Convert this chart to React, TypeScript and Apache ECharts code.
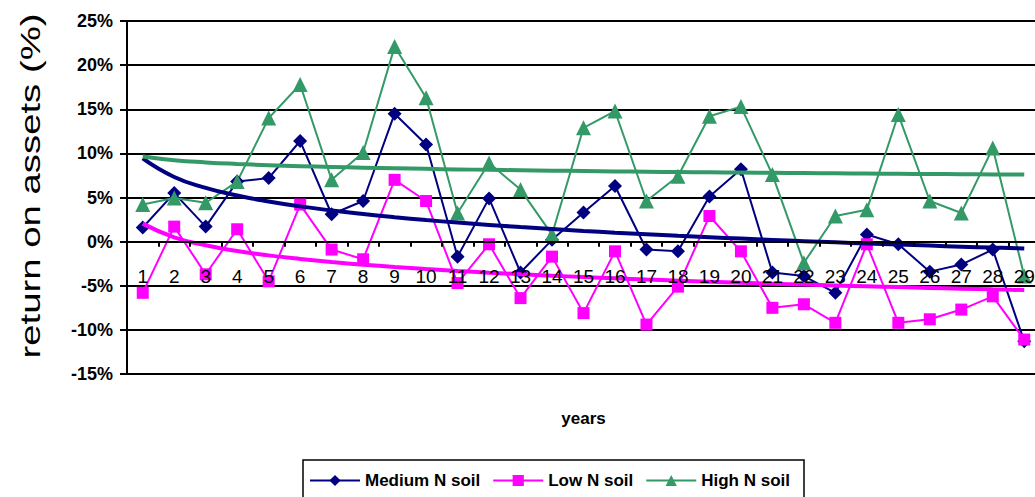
import React, { useEffect, useRef } from "react";
import * as echarts from "echarts";

const years = ["1","2","3","4","5","6","7","8","9","10","11","12","13","14","15","16","17","18","19","20","21","22","23","24","25","26","27","28","29"];
const mediumN = [1.6, 5.5, 1.7, 6.8, 7.2, 11.4, 3.1, 4.6, 14.5, 11.0, -1.7, 4.9, -3.5, 0.2, 3.3, 6.3, -0.9, -1.1, 5.1, 8.2, -3.5, -3.9, -5.8, 0.8, -0.3, -3.4, -2.6, -0.9, -11.3];
const lowN = [-5.8, 1.7, -3.7, 1.4, -4.5, 4.2, -0.9, -2.0, 7.0, 4.6, -4.7, -0.3, -6.4, -1.7, -8.1, -1.1, -9.4, -5.1, 2.9, -1.1, -7.5, -7.1, -9.2, -0.3, -9.2, -8.8, -7.7, -6.2, -11.1];
const highN = [4.2, 4.95, 4.4, 6.8, 14.0, 17.8, 7.0, 10.1, 22.1, 16.3, 3.25, 8.9, 5.9, 0.8, 12.9, 14.8, 4.6, 7.4, 14.2, 15.3, 7.6, -2.4, 2.9, 3.6, 14.4, 4.6, 3.25, 10.6, -3.9];
const yTitle = "return on assets (%)";
const Y_MIN = -15;
const Y_MAX = 25;
const Y_STEP = 5;

// logarithmic least-squares trendline (as in the spreadsheet's "Log" trendline)
function logTrend(values: number[]): number[] {
  const n = values.length;
  const xs = values.map((_, i) => Math.log(i + 1));
  const mx = xs.reduce((a, b) => a + b, 0) / n;
  const my = values.reduce((a, b) => a + b, 0) / n;
  let sxy = 0, sxx = 0;
  for (let i = 0; i < n; i++) {
    sxy += (xs[i] - mx) * (values[i] - my);
    sxx += (xs[i] - mx) * (xs[i] - mx);
  }
  const b = sxy / sxx;
  const a = my - b * mx;
  return xs.map((x) => +(a + b * x).toFixed(3));
}

const FONT = "'Liberation Sans', Arial, sans-serif";
const NAVY = "#000080";
const MAGENTA = "#FF00FF";
const GREEN = "#339966";

const GRID_TOP = 21;
const GRID_BOTTOM = 123;
const H = 497;

export default function App() {
  const ref = useRef<HTMLDivElement>(null);
  useEffect(() => {
    if (!ref.current) return;
    const chart = echarts.init(ref.current, undefined, { renderer: "svg" });
    // lift the category axis from the bottom edge of the grid up to the 0% line
    const plotH = H - GRID_TOP - GRID_BOTTOM;
    const zeroOffset = -plotH * (0 - Y_MIN) / (Y_MAX - Y_MIN);
    chart.setOption({
      animation: false,
      backgroundColor: "#fff",
      grid: { left: 127, top: GRID_TOP, bottom: GRID_BOTTOM, right: -5, containLabel: false, outerBoundsMode: "none" },
      graphic: [
        {
          type: "text",
          x: 31,
          y: 186,
          rotation: Math.PI / 2,
          scaleX: 1.42,
          scaleY: 1,
          style: {
            text: yTitle,
            fontFamily: FONT,
            fontSize: 27,
            fill: "#000",
            textAlign: "center",
            textVerticalAlign: "middle",
          },
        },
      ],
      legend: {
        data: ["Medium N soil", "Low N soil", "High N soil"],
        left: 303,
        top: 460,
        itemWidth: 50,
        itemHeight: 14,
        itemGap: 12,
        padding: [12, 14, 14, 6],
        borderColor: "#000",
        borderWidth: 1.5,
        textStyle: { fontFamily: FONT, fontSize: 17, fontWeight: "bold", color: "#000" },
      },
      xAxis: {
        type: "category",
        data: years,
        boundaryGap: true,
        position: "bottom",
        offset: zeroOffset,
        name: "years",
        nameLocation: "middle",
        nameGap: 168,
        nameTextStyle: { fontFamily: FONT, fontSize: 17, fontWeight: "bold", color: "#000" },
        z: 10,
        axisLine: { onZero: false, lineStyle: { color: "#000", width: 2 } },
        axisTick: { show: true, inside: false, length: 5, alignWithLabel: false, lineStyle: { color: "#000", width: 2 } },
        axisLabel: { margin: 25, fontFamily: FONT, fontSize: 19, color: "#000", interval: 0 },
        splitLine: { show: false },
      },
      yAxis: {
        type: "value",
        min: Y_MIN,
        max: Y_MAX,
        interval: Y_STEP,
        axisLine: { show: true, lineStyle: { color: "#000", width: 2 } },
        axisTick: { show: true, length: 7, lineStyle: { color: "#000", width: 2 } },
        axisLabel: { margin: 14, fontFamily: FONT, fontSize: 18, fontWeight: "bold", color: "#000", formatter: (v: number) => `${v}%` },
        splitLine: { show: true, lineStyle: { color: "#000", width: 2 } },
      },
      series: [
        {
          name: "Medium N soil",
          type: "line",
          data: mediumN,
          symbol: "diamond",
          symbolSize: 14,
          itemStyle: { color: NAVY },
          lineStyle: { color: NAVY, width: 2 },
          z: 3,
        },
        {
          name: "Low N soil",
          type: "line",
          data: lowN,
          symbol: "rect",
          symbolSize: 12,
          itemStyle: { color: MAGENTA },
          lineStyle: { color: MAGENTA, width: 2 },
          z: 3,
        },
        {
          name: "High N soil",
          type: "line",
          data: highN,
          symbol: "triangle",
          symbolSize: 15,
          itemStyle: { color: GREEN },
          lineStyle: { color: GREEN, width: 2 },
          z: 3,
        },
        {
          name: "trend Medium",
          type: "line",
          data: logTrend(mediumN),
          symbol: "none",
          smooth: true,
          lineStyle: { color: NAVY, width: 4 },
          z: 4,
          silent: true,
        },
        {
          name: "trend Low",
          type: "line",
          data: logTrend(lowN),
          symbol: "none",
          smooth: true,
          lineStyle: { color: MAGENTA, width: 4 },
          z: 4,
          silent: true,
        },
        {
          name: "trend High",
          type: "line",
          data: logTrend(highN),
          symbol: "none",
          smooth: true,
          lineStyle: { color: GREEN, width: 4 },
          z: 4,
          silent: true,
        },
      ],
    });
    return () => chart.dispose();
  }, []);
  return <div ref={ref} style={{ width: 1035, height: 497, position: "absolute", left: 0, top: 0 }} />;
}
